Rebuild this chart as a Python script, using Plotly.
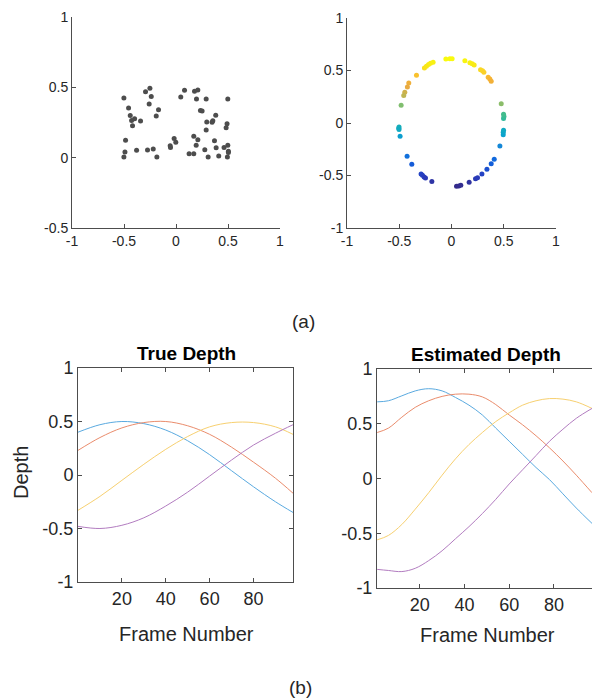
import plotly.graph_objects as go

# ---------------- data ----------------
# (a) left: 2D point cloud
pts_x = [-0.501, -0.456, -0.44, -0.427, -0.398, -0.418, -0.341, -0.485, -0.491, -0.501,
         -0.379, -0.293, -0.251, -0.238, -0.258, -0.168, -0.19, -0.274, -0.219, -0.184,
         -0.056, -0.053, -0.018, -0.002, 0.046, 0.082, 0.178, 0.21, 0.197, 0.29,
         0.235, 0.251, 0.296, 0.347, 0.354, 0.382, 0.29, 0.171, 0.21, 0.194,
         0.126, 0.171, 0.277, 0.309, 0.37, 0.386, 0.411, 0.462, 0.482, 0.491,
         0.498, 0.498, 0.504, 0.504, 0.494]
pts_y = [0.424, 0.353, 0.299, 0.265, 0.277, 0.227, 0.261, 0.123, 0.040, 0.005,
         0.052, 0.469, 0.493, 0.434, 0.382, 0.341, 0.296, 0.055, 0.062, 0.005,
         0.085, 0.073, 0.137, 0.109, 0.431, 0.479, 0.472, 0.481, 0.417, 0.417,
         0.336, 0.332, 0.254, 0.251, 0.263, 0.301, 0.197, 0.152, 0.128, 0.088,
         0.028, 0.028, 0.057, 0.005, 0.121, 0.071, 0.012, 0.073, 0.213, 0.242,
         0.417, 0.088, 0.045, 0.036, 0.005]

# (a) right: recovered ring
ring_x = [-0.054, -0.016, 0.006, 0.128, 0.176, 0.198, 0.217, 0.278, 0.297, 0.310,
          0.351, 0.367, 0.380, -0.259, -0.240, -0.220, -0.201, -0.176, -0.335, -0.409,
          -0.422, -0.447, -0.457, -0.482, -0.502, -0.505, -0.502, -0.492, -0.425, -0.380,
          -0.291, -0.278, -0.262, -0.249, -0.188, 0.048, 0.070, 0.089, 0.169, 0.230,
          0.249, 0.291, 0.339, 0.380, 0.409, 0.463, 0.495, 0.495, 0.498, 0.498,
          0.502, 0.498, 0.476]
ring_y = [0.610, 0.613, 0.613, 0.594, 0.575, 0.565, 0.552, 0.508, 0.498, 0.483,
          0.435, 0.419, 0.397, 0.524, 0.540, 0.556, 0.568, 0.578, 0.454, 0.381,
          0.343, 0.292, 0.263, 0.168, -0.038, -0.051, -0.063, -0.127, -0.317, -0.394,
          -0.486, -0.498, -0.514, -0.524, -0.556, -0.603, -0.600, -0.594, -0.565, -0.530,
          -0.521, -0.486, -0.441, -0.387, -0.346, -0.219, -0.111, -0.089, -0.070, 0.044,
          0.063, 0.083, 0.184]

# (b) left: true depth
frames_true = [0, 10, 20, 30, 40, 50, 60, 70, 80, 90, 98]
true_blue   = [0.40, 0.47, 0.50, 0.48, 0.42, 0.32, 0.19, 0.04, -0.11, -0.25, -0.35]
true_red    = [0.23, 0.35, 0.44, 0.49, 0.50, 0.46, 0.38, 0.26, 0.12, -0.03, -0.17]
true_yellow = [-0.33, -0.20, -0.05, 0.10, 0.24, 0.36, 0.45, 0.49, 0.49, 0.45, 0.38]
true_purple = [-0.48, -0.50, -0.47, -0.40, -0.29, -0.16, -0.01, 0.14, 0.28, 0.39, 0.47]

# (b) right: estimated depth
frames_est = [1, 6, 12, 18, 24, 30, 36, 42, 48, 54, 60, 66, 72, 78, 84, 90, 97]
est_blue   = [0.70, 0.71, 0.755, 0.80, 0.82, 0.80, 0.74, 0.67, 0.58, 0.46, 0.34, 0.22, 0.10, -0.01, -0.14, -0.27, -0.41]
est_red    = [0.42, 0.46, 0.56, 0.65, 0.71, 0.75, 0.77, 0.77, 0.745, 0.675, 0.58, 0.49, 0.39, 0.28, 0.16, 0.03, -0.13]
est_yellow = [-0.56, -0.52, -0.42, -0.28, -0.13, 0.03, 0.18, 0.31, 0.42, 0.52, 0.60, 0.67, 0.71, 0.73, 0.725, 0.70, 0.64]
est_purple = [-0.83, -0.84, -0.85, -0.82, -0.75, -0.66, -0.55, -0.44, -0.32, -0.19, -0.05, 0.08, 0.21, 0.34, 0.45, 0.55, 0.64]

sym_vals = [-1, -0.5, 0, 0.5, 1]
sym_text = ["-1", "-0.5", "0", "0.5", "1"]
frame_ticks = [20, 40, 60, 80]

# ---------------- styling ----------------
W, H = 592, 698
FONT = "Liberation Sans, Arial, Helvetica, sans-serif"
AX = "#4d4d4d"
TXT = "#262626"
line_colors = ["#5aaae0", "#ea8c6c", "#f7d070", "#b27cc0"]
parula = [
    [0.00, "rgb(53,42,135)"], [0.08, "rgb(40,60,190)"], [0.20, "rgb(16,100,222)"],
    [0.32, "rgb(20,135,215)"], [0.42, "rgb(10,165,205)"], [0.50, "rgb(30,180,170)"],
    [0.56, "rgb(60,188,145)"], [0.64, "rgb(130,190,110)"], [0.72, "rgb(195,180,80)"],
    [0.78, "rgb(232,170,65)"], [0.85, "rgb(248,180,50)"], [0.90, "rgb(250,210,40)"],
    [0.95, "rgb(248,232,22)"], [1.00, "rgb(249,250,14)"],
]


def px_x(a, b):
    return [a / W, b / W]


def px_y(top, bottom):
    return [1 - bottom / H, 1 - top / H]


def axis(domain, rng, tv, tt, anchor, mirror, size):
    return dict(domain=domain, range=rng, tickvals=tv, ticktext=tt, anchor=anchor,
                showline=True, linecolor=AX, linewidth=1, mirror=mirror,
                ticks="inside", ticklen=4, tickcolor=AX, tickwidth=1,
                showgrid=False, zeroline=False, fixedrange=True, automargin=False,
                tickfont=dict(family=FONT, size=size, color=TXT))


fig = go.Figure()

fig.add_trace(go.Scatter(x=pts_x, y=pts_y, mode="markers", xaxis="x", yaxis="y",
                         marker=dict(size=5, color="#4d4d4d"), showlegend=False))
fig.add_trace(go.Scatter(x=ring_x, y=ring_y, mode="markers", xaxis="x2", yaxis="y2",
                         marker=dict(size=5, color=ring_y, colorscale=parula,
                                     cmin=-0.61, cmax=0.61, showscale=False),
                         showlegend=False))

for ys, c in zip([true_blue, true_red, true_yellow, true_purple], line_colors):
    fig.add_trace(go.Scatter(x=frames_true, y=ys, mode="lines", xaxis="x3", yaxis="y3",
                             line=dict(color=c, width=1, shape="spline", smoothing=1.0),
                             showlegend=False))
for ys, c in zip([est_blue, est_red, est_yellow, est_purple], line_colors):
    fig.add_trace(go.Scatter(x=frames_est, y=ys, mode="lines", xaxis="x4", yaxis="y4",
                             line=dict(color=c, width=1, shape="spline", smoothing=1.0),
                             showlegend=False))

S_TOP, S_BOT = 14, 18
layout = dict(
    width=W, height=H, margin=dict(l=0, r=0, t=0, b=0, pad=0, autoexpand=False),
    paper_bgcolor="white", plot_bgcolor="white",
    font=dict(family=FONT, color=TXT),
    xaxis=axis(px_x(72, 280), [-1, 1], sym_vals, sym_text, "y", False, S_TOP),
    yaxis=axis(px_y(17, 228), [-0.5, 1], sym_vals[1:], sym_text[1:], "x", False, S_TOP),
    xaxis2=axis(px_x(347, 556), [-1, 1], sym_vals, sym_text, "y2", False, S_TOP),
    yaxis2=axis(px_y(18, 228), [-1, 1], sym_vals, sym_text, "x2", False, S_TOP),
    xaxis3=axis(px_x(78, 293), [0, 98], frame_ticks, [str(v) for v in frame_ticks], "y3", "ticks", S_BOT),
    yaxis3=axis(px_y(368, 582), [-1, 1], sym_vals, sym_text, "x3", "ticks", S_BOT),
    xaxis4=axis(px_x(377, 592), [0.9, 97], frame_ticks, [str(v) for v in frame_ticks], "y4", "ticks", S_BOT),
    yaxis4=axis(px_y(369, 588), [-1, 1], sym_vals, sym_text, "x4", False, S_BOT),
)


def ann(text, x, y, size, bold=False, angle=0):
    return dict(text=f"<b>{text}</b>" if bold else text, x=x / W, y=1 - y / H,
                xref="paper", yref="paper", showarrow=False, textangle=angle,
                xanchor="center", yanchor="middle",
                font=dict(family=FONT, size=size, color="#000000" if bold else TXT))


layout["annotations"] = [
    ann("(a)", 303, 321, 19),
    ann("True Depth", 186, 353, 19, bold=True),
    ann("Estimated Depth", 486, 354, 19, bold=True),
    ann("Depth", 21, 473, 20, angle=-90),
    ann("Frame Number", 186, 634, 20),
    ann("Frame Number", 487, 635, 20),
    ann("(b)", 300, 687, 19),
]
fig.update_layout(**layout)
fig.write_html("out.html", config={"displayModeBar": False, "staticPlot": True},
               post_script="document.body.style.margin='0';document.body.style.overflow='hidden';")
